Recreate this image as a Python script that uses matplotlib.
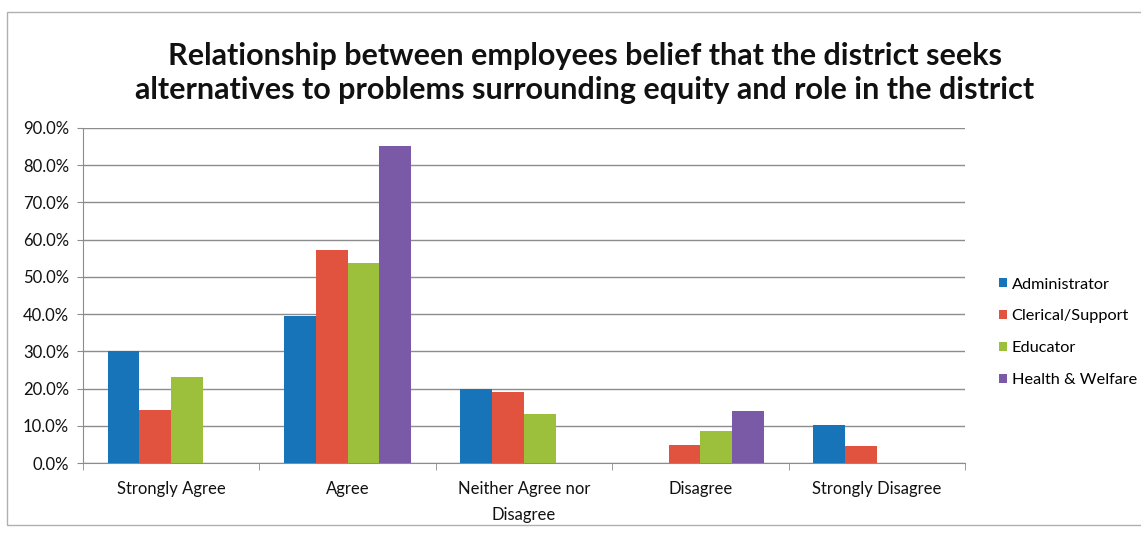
import matplotlib
matplotlib.use("Agg")
import matplotlib.pyplot as plt
import numpy as np
from matplotlib.patches import Rectangle
from matplotlib.ticker import FuncFormatter

categories = ["Strongly Agree", "Agree", "Neither Agree nor\nDisagree", "Disagree", "Strongly Disagree"]
series_names = ["Administrator", "Clerical/Support", "Educator", "Health & Welfare"]
administrator = [30.0, 39.5, 20.0, 0.0, 10.2]
clerical_support = [14.2, 57.2, 19.1, 4.8, 4.7]
educator = [23.1, 53.8, 13.2, 8.5, 0.0]
health_welfare = [0.0, 85.2, 0.0, 14.0, 0.0]
y_ticks = [0, 10, 20, 30, 40, 50, 60, 70, 80, 90]

colors = ["#1874b9", "#e2533f", "#9cc03b", "#7a5aa6"]
FONT = "Lato"

W, H = 1141, 541
fig = plt.figure(figsize=(W / 100, H / 100), dpi=100)
fig.patch.set_facecolor("white")

# chart-area frame
fig.add_artist(Rectangle((7 / W, 1 - 525 / H), (W + 20) / W, (525 - 12) / H,
                         transform=fig.transFigure, fill=False,
                         edgecolor="#b0b0b0", linewidth=1.0))

left, right, top, bottom = 83, 965, 128, 463
ax = fig.add_axes([left / W, 1 - bottom / H, (right - left) / W, (bottom - top) / H])

x = np.arange(len(categories))
bar_w = 0.18
data = [administrator, clerical_support, educator, health_welfare]
for i, (name, vals) in enumerate(zip(series_names, data)):
    ax.bar(x + (i - 1.5) * bar_w, vals, width=bar_w, color=colors[i],
           label=name, zorder=3)

ax.set_xlim(-0.5, len(categories) - 0.5)
ax.set_ylim(0, 90)
ax.set_yticks(y_ticks)
ax.yaxis.set_major_formatter(FuncFormatter(lambda v, p: f"{v:.1f}%"))
ax.grid(axis="y", color="#8c8c8c", linewidth=1.0, zorder=0)

ax.set_xticks(x)
ax.set_xticklabels(categories, fontsize=12, family=FONT, color="#111111",
                   linespacing=1.75)
ax.set_xticks(np.arange(-0.5, len(categories)), minor=True)
ax.tick_params(axis="x", which="major", length=0, pad=13)
ax.tick_params(axis="x", which="minor", length=5, color="#8c8c8c")
ax.tick_params(axis="y", length=4, color="#8c8c8c", labelsize=12, pad=6,
               labelcolor="#111111")
for lbl in ax.get_yticklabels():
    lbl.set_family(FONT)

for side in ("top", "right"):
    ax.spines[side].set_visible(False)
ax.spines["left"].set_color("#8c8c8c")
ax.spines["bottom"].set_color("#8c8c8c")

fig.text(585 / W, 1 - 73 / H,
         "Relationship between employees belief that the district seeks\n"
         "alternatives to problems surrounding equity and role in the district",
         ha="center", va="center", fontsize=22, fontweight="bold",
         family=FONT, color="#111111", linespacing=1.3)

leg = fig.legend(loc="upper left", bbox_to_anchor=(984 / W, 1 - 263 / H),
                 frameon=False, prop={"family": FONT, "size": 11.7},
                 handlelength=0.5, handleheight=0.5, handletextpad=0.3,
                 labelspacing=1.1)

fig.savefig("out.png", dpi=100, facecolor="white")
